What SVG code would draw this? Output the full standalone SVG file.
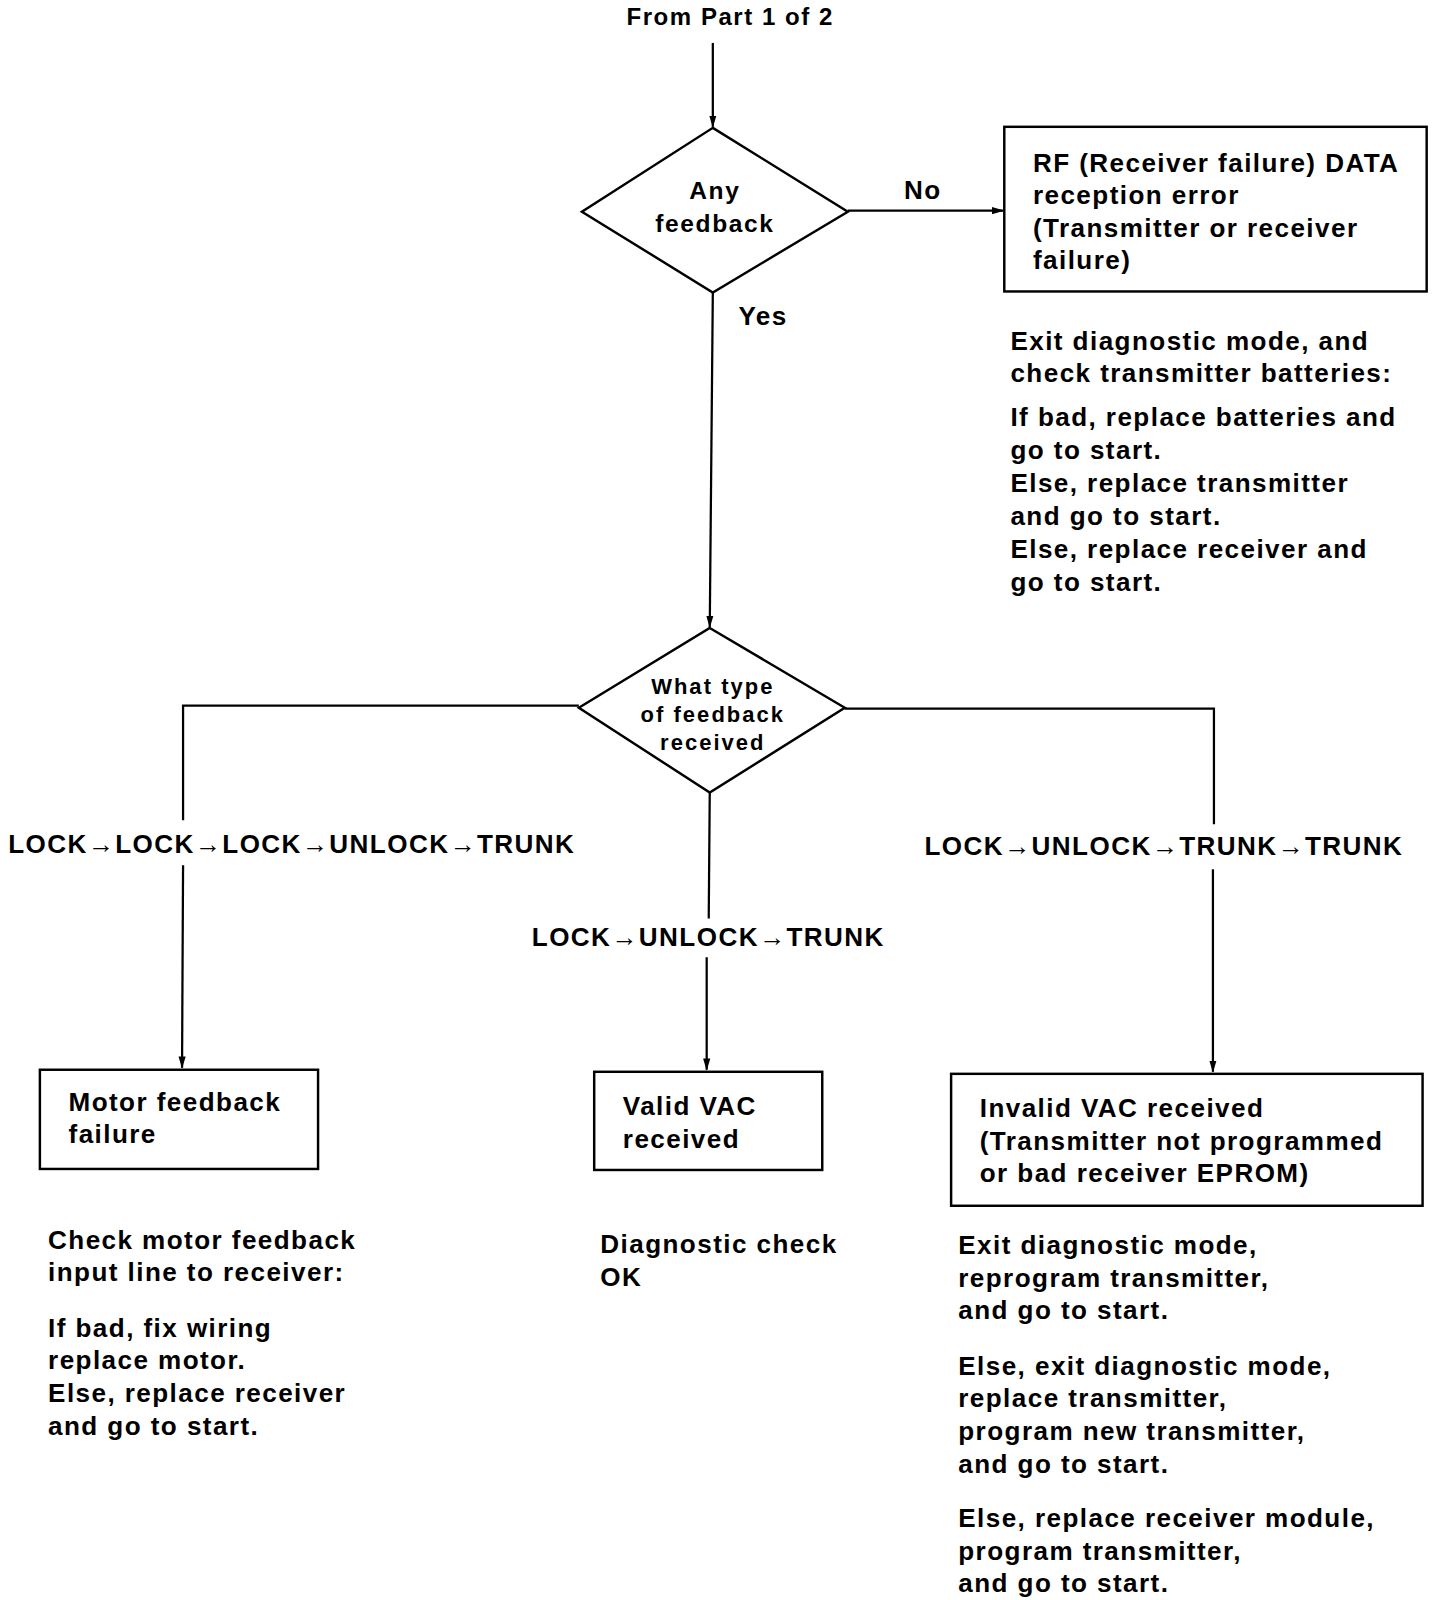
<svg xmlns="http://www.w3.org/2000/svg" width="1440" height="1600" viewBox="0 0 1440 1600">
<defs>
<marker id="ah" markerWidth="12" markerHeight="10" refX="11" refY="5" orient="auto" markerUnits="userSpaceOnUse">
<path d="M0,1.5 L12,5 L0,8.5 Z" fill="#000"/>
</marker>
<style>
text{font-family:"Liberation Sans",Arial,sans-serif;font-weight:bold;fill:#000;font-size:25.5px;letter-spacing:1.4px}
.c{text-anchor:middle}
.t{font-size:23.5px;letter-spacing:1.5px}
.d{font-size:24px;letter-spacing:1.6px}
.s{font-size:21.5px;letter-spacing:2px}
.shape{fill:#fff;stroke:#000;stroke-width:2.4}
.ln{fill:none;stroke:#000;stroke-width:2.2}
</style>
</defs>
<rect width="1440" height="1600" fill="#fff"/>
<g transform="scale(1.0227)">
<text class="c t" x="714" y="24">From Part 1 of 2</text>
<g id="connectors">
<line class="ln" x1="697" y1="42" x2="697" y2="124" marker-end="url(#ah)"/>
<line class="ln" x1="829" y1="206" x2="981" y2="206" marker-end="url(#ah)"/>
<line class="ln" x1="697" y1="286" x2="694" y2="613" marker-end="url(#ah)"/>
<polyline class="ln" points="566,690 179,690 179,802"/>
<line class="ln" x1="179" y1="846" x2="178" y2="1044" marker-end="url(#ah)"/>
<line class="ln" x1="694" y1="775" x2="693" y2="898"/>
<line class="ln" x1="691" y1="936" x2="691" y2="1046" marker-end="url(#ah)"/>
<polyline class="ln" points="826,693 1187,693 1187,806"/>
<line class="ln" x1="1186" y1="850" x2="1186" y2="1048" marker-end="url(#ah)"/>
<text x="884" y="195">No</text>
<text x="722" y="318">Yes</text>
<text x="8" y="834">LOCK→LOCK→LOCK→UNLOCK→TRUNK</text>
<text x="520" y="925">LOCK→UNLOCK→TRUNK</text>
<text x="904" y="836">LOCK→UNLOCK→TRUNK→TRUNK</text>
</g>
<g id="any-feedback">
<polygon class="shape" points="697,125 829,207 697,286 569,207"/>
<text class="c d" x="699" y="195">Any</text>
<text class="c d" x="699" y="227">feedback</text>
</g>
<g id="rf-error">
<rect class="shape" x="982" y="124" width="413" height="161"/>
<text x="1010" y="168">RF (Receiver failure) DATA</text>
<text x="1010" y="199">reception error</text>
<text x="1010" y="232">(Transmitter or receiver</text>
<text x="1010" y="263">failure)</text>
</g>
<g id="rf-notes">
<text x="988" y="342">Exit diagnostic mode, and</text>
<text x="988" y="374">check transmitter batteries:</text>
<text x="988" y="417">If bad, replace batteries and</text>
<text x="988" y="449">go to start.</text>
<text x="988" y="481">Else, replace transmitter</text>
<text x="988" y="513">and go to start.</text>
<text x="988" y="546">Else, replace receiver and</text>
<text x="988" y="578">go to start.</text>
</g>
<g id="what-type">
<polygon class="shape" points="694,614 826,692 694,775 566,692"/>
<text class="c s" x="697" y="679">What type</text>
<text class="c s" x="697" y="706">of feedback</text>
<text class="c s" x="697" y="733">received</text>
</g>
<g id="motor-failure">
<rect class="shape" x="39" y="1046" width="272" height="97"/>
<text x="67" y="1086">Motor feedback</text>
<text x="67" y="1118">failure</text>
</g>
<g id="motor-notes">
<text x="47" y="1221">Check motor feedback</text>
<text x="47" y="1253">input line to receiver:</text>
<text x="47" y="1307">If bad, fix wiring</text>
<text x="47" y="1339">replace motor.</text>
<text x="47" y="1371">Else, replace receiver</text>
<text x="47" y="1403">and go to start.</text>
</g>
<g id="valid-vac">
<rect class="shape" x="581" y="1048" width="223" height="96"/>
<text x="609" y="1090">Valid VAC</text>
<text x="609" y="1123">received</text>
</g>
<g id="valid-notes">
<text x="587" y="1225">Diagnostic check</text>
<text x="587" y="1257">OK</text>
</g>
<g id="invalid-vac">
<rect class="shape" x="930" y="1050" width="461" height="129"/>
<text x="958" y="1092">Invalid VAC received</text>
<text x="958" y="1124">(Transmitter not programmed</text>
<text x="958" y="1156">or bad receiver EPROM)</text>
</g>
<g id="invalid-notes">
<text x="937" y="1226">Exit diagnostic mode,</text>
<text x="937" y="1258">reprogram transmitter,</text>
<text x="937" y="1290">and go to start.</text>
<text x="937" y="1344">Else, exit diagnostic mode,</text>
<text x="937" y="1376">replace transmitter,</text>
<text x="937" y="1408">program new transmitter,</text>
<text x="937" y="1440">and go to start.</text>
<text x="937" y="1493">Else, replace receiver module,</text>
<text x="937" y="1525">program transmitter,</text>
<text x="937" y="1557">and go to start.</text>
</g>
</g>
</svg>
